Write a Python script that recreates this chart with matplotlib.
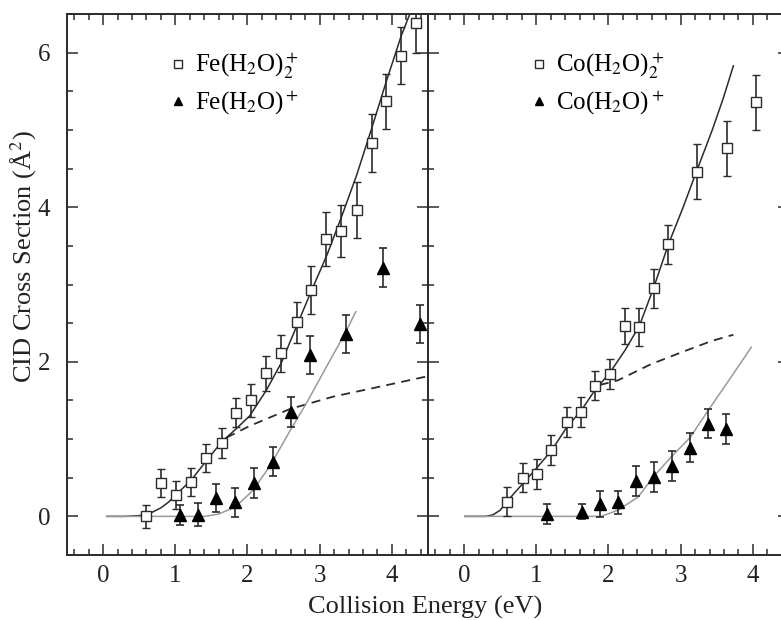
import numpy as np
import matplotlib
matplotlib.use("Agg")
import matplotlib.pyplot as plt
from matplotlib.ticker import MultipleLocator

plt.rcParams['font.family'] = ['Liberation Serif', 'DejaVu Serif']
plt.rcParams['mathtext.fontset'] = 'stix'

# Fe panel data
fe2_x = [0.59, 0.80, 1.01, 1.22, 1.43, 1.64, 1.84, 2.05, 2.26, 2.47, 2.68,
         2.88, 3.09, 3.29, 3.51, 3.72, 3.92, 4.13, 4.34]
fe2_y = [0.00, 0.43, 0.28, 0.45, 0.76, 0.95, 1.34, 1.50, 1.85, 2.11, 2.51,
         2.93, 3.59, 3.69, 3.96, 4.83, 5.37, 5.96, 6.38]
fe2_err = [0.15, 0.18, 0.18, 0.18, 0.18, 0.19, 0.19, 0.21, 0.23, 0.24, 0.27,
           0.31, 0.35, 0.34, 0.36, 0.37, 0.36, 0.37, 0.38]

fe1_x = [1.07, 1.32, 1.57, 1.83, 2.09, 2.35, 2.60, 2.86, 3.37, 3.88, 4.39]
fe1_y = [0.02, 0.02, 0.24, 0.18, 0.43, 0.71, 1.35, 2.09, 2.36, 3.22, 2.49]
fe1_err = [0.13, 0.15, 0.18, 0.19, 0.19, 0.19, 0.19, 0.245, 0.25, 0.25, 0.25]

fe2_fit_x = [0.05, 0.30, 0.50, 0.65, 0.80, 0.90, 1.00, 1.23, 1.43, 1.64, 1.85,
             2.03, 2.26, 2.47, 2.68, 2.89, 3.10, 3.30, 3.51, 3.72, 3.92, 4.13,
             4.24]
fe2_fit_y = [0.00, 0.00, 0.01, 0.04, 0.11, 0.18, 0.27, 0.48, 0.72, 0.96, 1.14,
             1.30, 1.63, 1.99, 2.46, 2.93, 3.38, 3.87, 4.41, 5.02, 5.62, 6.22,
             6.48]
fe_dash_x = [1.71, 2.03, 2.59, 3.19, 3.79, 4.43, 4.50]
fe_dash_y = [1.02, 1.17, 1.39, 1.55, 1.67, 1.80, 1.81]
fe1_fit_x = [0.05, 0.50, 1.00, 1.41, 1.60, 1.83, 2.08, 2.33, 2.59, 2.82, 3.09,
             3.37, 3.50]
fe1_fit_y = [0.00, 0.00, 0.00, 0.00, 0.03, 0.12, 0.34, 0.68, 1.11, 1.47, 1.93,
             2.40, 2.65]

# Co panel data
co2_x = [0.60, 0.81, 1.01, 1.21, 1.42, 1.62, 1.82, 2.02, 2.23, 2.42, 2.63,
         2.83, 3.23, 3.64, 4.04]
co2_y = [0.19, 0.50, 0.55, 0.86, 1.22, 1.35, 1.69, 1.84, 2.46, 2.45, 2.95,
         3.52, 4.46, 4.76, 5.36]
co2_err = [0.19, 0.19, 0.19, 0.19, 0.19, 0.19, 0.19, 0.19, 0.23, 0.25, 0.25,
           0.25, 0.355, 0.355, 0.355]

co1_x = [1.15, 1.64, 1.88, 2.13, 2.38, 2.63, 2.88, 3.13, 3.38, 3.63]
co1_y = [0.03, 0.06, 0.16, 0.18, 0.46, 0.51, 0.65, 0.89, 1.20, 1.13]
co1_err = [0.13, 0.10, 0.17, 0.15, 0.19, 0.19, 0.19, 0.19, 0.19, 0.19]

co2_fit_x = [0.01, 0.30, 0.40, 0.50, 0.61, 0.79, 1.00, 1.21, 1.42, 1.63, 1.81,
             2.02, 2.23, 2.43, 2.63, 2.83, 3.03, 3.23, 3.43, 3.59, 3.73]
co2_fit_y = [0.00, 0.00, 0.02, 0.08, 0.21, 0.40, 0.62, 0.85, 1.15, 1.38, 1.63,
             1.86, 2.15, 2.47, 2.97, 3.52, 3.99, 4.49, 4.98, 5.41, 5.83]
co_dash_x = [1.88, 2.13, 2.59, 3.06, 3.43, 3.73]
co_dash_y = [1.70, 1.76, 1.97, 2.14, 2.27, 2.35]
co1_fit_x = [0.01, 0.50, 1.00, 1.50, 1.90, 2.13, 2.41, 2.62, 2.87, 3.13, 3.38,
             3.66, 3.98]
co1_fit_y = [0.00, 0.00, 0.00, 0.00, 0.00, 0.08, 0.25, 0.51, 0.77, 1.02, 1.37,
             1.75, 2.19]

fe_labels = [r'Fe(H$_2$O)$_2^+$', r'Fe(H$_2$O)$^+$']
co_labels = [r'Co(H$_2$O)$_2^+$', r'Co(H$_2$O)$^+$']

fig = plt.figure(figsize=(7.81, 6.2), dpi=100)
ax1 = fig.add_axes([0.0858, 0.1048, 0.4622, 0.8726])
ax2 = fig.add_axes([0.548, 0.1048, 0.4622, 0.8726])

dark = '#2b2b2b'
grey = '#9a9a9a'


def panel(ax, x2, y2, e2, x1, y1, e1, fx2, fy2, dx, dy, fx1, fy1, labels):
    ax.plot(fx2, fy2, color=dark, lw=1.1, zorder=2)
    ax.plot(dx, dy, color=dark, lw=1.3, ls=(0, (5, 3.5)), zorder=2)
    ax.plot(fx1, fy1, color=grey, lw=1.1, zorder=2)
    h2 = ax.errorbar(x2, y2, yerr=e2, fmt='s', ms=7, mfc='white', mec=dark,
                     mew=1.0, ecolor=dark, elinewidth=1.2, capsize=3,
                     capthick=1.2, zorder=3)
    h1 = ax.errorbar(x1, y1, yerr=e1, fmt='^', ms=8.5, mfc='black', mec='black',
                     ecolor=dark, elinewidth=1.2, capsize=3, capthick=1.2,
                     zorder=3)
    ax.set_xlim(-0.5, 4.5)
    ax.set_ylim(-0.5, 6.5)
    ax.xaxis.set_major_locator(MultipleLocator(1))
    ax.xaxis.set_minor_locator(MultipleLocator(0.2))
    ax.yaxis.set_major_locator(MultipleLocator(2))
    ax.yaxis.set_minor_locator(MultipleLocator(0.5))
    ax.tick_params(which='both', direction='in', top=True, right=True,
                   colors=dark, labelcolor='#222222', labelsize=18, width=1.1)
    ax.tick_params(which='major', length=8)
    ax.tick_params(axis='x', which='major', pad=7)
    ax.tick_params(axis='y', which='major', pad=12)
    ax.tick_params(which='minor', length=4)
    for s in ax.spines.values():
        s.set_linewidth(1.4)
        s.set_color(dark)
    leg = ax.legend([h2[0], h1[0]], labels, loc='upper left',
                    bbox_to_anchor=(0.26, 0.95), frameon=False, fontsize=18,
                    handlelength=0.6, handletextpad=0.35, labelspacing=0.3,
                    markerscale=0.75, borderaxespad=0)
    return leg


panel(ax1, fe2_x, fe2_y, fe2_err, fe1_x, fe1_y, fe1_err,
      fe2_fit_x, fe2_fit_y, fe_dash_x, fe_dash_y, fe1_fit_x, fe1_fit_y,
      fe_labels)
panel(ax2, co2_x, co2_y, co2_err, co1_x, co1_y, co1_err,
      co2_fit_x, co2_fit_y, co_dash_x, co_dash_y, co1_fit_x, co1_fit_y,
      co_labels)
ax2.tick_params(labelleft=False)

ax1.set_ylabel('CID Cross Section (Å$^2$)', fontsize=19, color='#222222',
               va='center')
ax1.yaxis.set_label_coords(-0.12, 0.551)
fig.text(0.544, 0.011, 'Collision Energy (eV)', fontsize=19,
         color='#222222', ha='center', va='baseline')

fig.savefig('out.png', dpi=100)
